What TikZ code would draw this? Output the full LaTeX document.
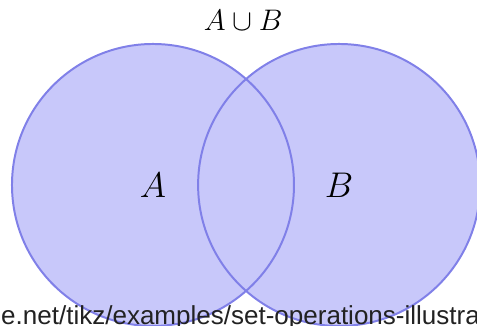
\documentclass[tikz,border=0pt]{standalone}
\usepackage{fontspec}
\newfontfamily\fuenteurl{Liberation Sans}
\usepackage{xcolor}
\usepackage{tikz}
\usetikzlibrary{positioning}
\definecolor{azul}{HTML}{8080E8}
\definecolor{azulclaro}{HTML}{C8C8FA}
\definecolor{gris}{HTML}{222222}
\tikzset{
  relleno/.style={fill=azulclaro},
  borde/.style={draw=azul,thick},
  etiqueta/.style={inner sep=1pt,font=\fontsize{13.5}{16}\selectfont},
  titulo/.style={inner sep=1pt,font=\fontsize{12.2}{14}\selectfont},
  enlace/.style={inner sep=0pt,anchor=base west,text=gris,font=\fuenteurl\fontsize{10.5}{12}\selectfont},
}
\begin{document}
\begin{tikzpicture}
  \path[use as bounding box,clip] (-2.17,-2.0) rectangle (4.596,2.624);
  \coordinate (cA) at (0,0);
  \coordinate (cB) at (2.64,0);
  \fill[relleno] (cA) circle (2) (cB) circle (2);
  \draw[borde] (cA) circle (2) (cB) circle (2);
  \node[etiqueta] (A) at (cA) {$A$};
  \node[etiqueta] (B) at (cB) {$B$};
  \node[titulo] (union) at (1.28,2.33) {$A\cup B$};
  \node[enlace] (fuente) at (-2.16,-1.986) {e.net/tikz/examples/set-operations-illustra};
\end{tikzpicture}
\end{document}
